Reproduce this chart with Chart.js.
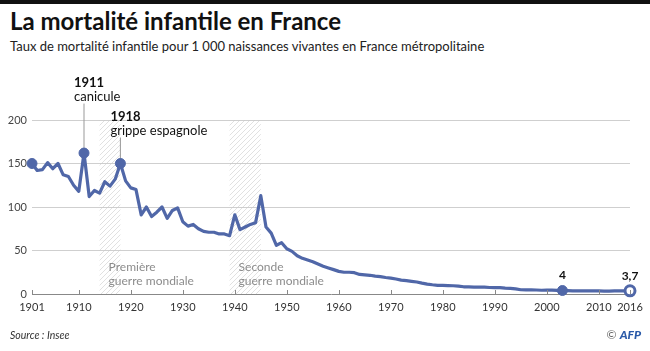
<!DOCTYPE html>
<html>
<head>
<meta charset="utf-8">
<script src="https://cdn.jsdelivr.net/npm/chart.js@4.4.1/dist/chart.umd.min.js"></script>
<style>
html, body { margin: 0; padding: 0; background: #fff; }
body { width: 650px; height: 351px; position: relative; overflow: hidden; font-family: Lato, sans-serif; }
#bar { position: absolute; left: 0; top: 0; width: 650px; height: 4px; background: #111; }
#title { position: absolute; left: 10px; top: 6px; font-size: 24px; font-weight: bold; color: #111; white-space: nowrap; }
#subtitle { position: absolute; left: 10px; top: 38px; font-size: 13px; color: #222; white-space: nowrap; }
#source { position: absolute; left: 10px; top: 329px; font-size: 10.5px; font-style: italic; color: #333; }
#credit { position: absolute; right: 9px; top: 327px; font-size: 12px; color: #666; }
#credit b { color: #2b5aa8; font-style: italic; font-weight: 900; }
#wrap { position: absolute; left: 0; top: 0; width: 650px; height: 351px; }
</style>
</head>
<body>
<div id="bar"></div>
<div id="title">La mortalité infantile en France</div>
<div id="subtitle">Taux de mortalité infantile pour 1 000 naissances vivantes en France métropolitaine</div>
<div id="wrap"><canvas id="chart"></canvas></div>
<div id="source">Source : Insee</div>
<div id="credit">© <b>AFP</b></div>
<script>
// années
const years = [
  1901,1902,1903,1904,1905,1906,1907,1908,1909,1910,
  1911,1912,1913,1914,1915,1916,1917,1918,1919,1920,
  1921,1922,1923,1924,1925,1926,1927,1928,1929,1930,
  1931,1932,1933,1934,1935,1936,1937,1938,1939,1940,
  1941,1942,1943,1944,1945,1946,1947,1948,1949,1950,
  1951,1952,1953,1954,1955,1956,1957,1958,1959,1960,
  1961,1962,1963,1964,1965,1966,1967,1968,1969,1970,
  1971,1972,1973,1974,1975,1976,1977,1978,1979,1980,
  1981,1982,1983,1984,1985,1986,1987,1988,1989,1990,
  1991,1992,1993,1994,1995,1996,1997,1998,1999,2000,
  2001,2002,2003,2004,2005,2006,2007,2008,2009,2010,
  2011,2012,2013,2014,2015,2016
];
// taux pour 1000 naissances
const rates = [
  150,142,143,151,144,150,137,135,125,118,
  162,112,119,116,129,124,132,150,130,122,
  120,91,100,89,94,100,87,96,99,83,
  78,80,75,72,71,71,69,69,67,91,
  74,77,80,82,113,77,70,56,59,52,
  49,44,41,39,37,34.5,32,30,28,26,
  25,25,24.5,22.5,22,21.5,20.5,20,19,18.2,
  17.2,16,15.4,14.6,13.8,12.5,11.4,10.6,10,10,
  9.7,9.5,9.1,8.3,8.3,8,7.8,7.8,7.5,7.3,
  7.3,6.8,6.5,5.9,4.9,4.8,4.7,4.6,4.3,4.4,
  4.5,4.1,4,3.9,3.6,3.6,3.6,3.6,3.7,3.5,
  3.3,3.3,3.6,3.5,3.7,3.7
];
const tickYears = [1901,1910,1920,1930,1940,1950,1960,1970,1980,1990,2000,2010,2016];
const yTicks = [0,50,100,150,200];

const markerYears = [1901,1911,1918,2003,2016];
const valueLabelYears = [2003,2016];
const valueLabels = ["4","3,7"];

const eventYears = [1911,1918];
const eventTitles = ["1911","1918"];
const eventNotes = ["canicule","grippe espagnole"];
const eventLevels = [243,204];

const warStart = [1914,1939];
const warEnd = [1918,1945];
const warLabels = [["Première","guerre mondiale"],["Seconde","guerre mondiale"]];

const blue = "#5067a8";

function hatch() {
  const c = document.createElement("canvas");
  c.width = 5; c.height = 5;
  const g = c.getContext("2d");
  g.strokeStyle = "rgba(200,200,200,0.55)";
  g.lineWidth = 1;
  g.beginPath();
  g.moveTo(0, 5); g.lineTo(5, 0);
  g.moveTo(-1, 1); g.lineTo(1, -1);
  g.moveTo(4, 6); g.lineTo(6, 4);
  g.stroke();
  return c;
}

const extras = {
  id: "extras",
  beforeDatasetsDraw(chart) {
    const ctx = chart.ctx, x = chart.scales.x, y = chart.scales.y;
    const pat = ctx.createPattern(hatch(), "repeat");
    ctx.save();
    warStart.forEach((s, i) => {
      const x0 = x.getPixelForValue(s), x1 = x.getPixelForValue(warEnd[i]);
      const top = y.getPixelForValue(200), bot = y.getPixelForValue(0);
      ctx.fillStyle = pat;
      ctx.fillRect(x0, top, x1 - x0, bot - top);
      ctx.fillStyle = "#8c8c8c";
      ctx.font = "12px Lato";
      ctx.textBaseline = "middle";
      ctx.fillText(warLabels[i][0], x0 + 9, bot - 27);
      ctx.fillText(warLabels[i][1], x0 + 9, bot - 13);
    });
    // annotations
    eventYears.forEach((yr, i) => {
      const px = x.getPixelForValue(yr);
      const py = y.getPixelForValue(rates[years.indexOf(yr)]);
      const ty = y.getPixelForValue(eventLevels[i]);
      ctx.strokeStyle = "#999";
      ctx.lineWidth = 1;
      ctx.beginPath();
      ctx.moveTo(px, ty + 21);
      ctx.lineTo(px, py);
      ctx.stroke();
      ctx.fillStyle = "#111";
      ctx.textBaseline = "middle";
      ctx.font = "bold 13px Lato";
      ctx.fillText(eventTitles[i], px - 10, ty);
      ctx.font = "13px Lato";
      ctx.fillText(eventNotes[i], px - 10, ty + 14);
    });
    ctx.restore();
  },
  afterDraw(chart) {
    const ctx = chart.ctx, x = chart.scales.x, y = chart.scales.y;
    ctx.save();
    const bot = y.getPixelForValue(0);
    ctx.strokeStyle = "#888";
    ctx.lineWidth = 1;
    ctx.beginPath();
    tickYears.forEach(v => {
      const px = Math.round(x.getPixelForValue(v)) + 0.5;
      ctx.moveTo(px, bot);
      ctx.lineTo(px, bot - 4);
    });
    ctx.stroke();
    ctx.fillStyle = "#111";
    ctx.font = "bold 12px Lato";
    ctx.textAlign = "center";
    ctx.textBaseline = "middle";
    valueLabelYears.forEach((yr, i) => {
      const px = x.getPixelForValue(yr);
      const py = y.getPixelForValue(rates[years.indexOf(yr)]);
      ctx.fillText(valueLabels[i], px, py - 15);
    });
    ctx.restore();
  }
};

new Chart(document.getElementById("chart"), {
  type: "line",
  data: {
    datasets: [{
      data: years.map((yr, i) => ({ x: yr, y: rates[i] })),
      borderColor: blue,
      borderWidth: 3.2,
      borderJoinStyle: "round",
      tension: 0,
      pointRadius: c => markerYears.includes(years[c.dataIndex]) ? 5 : 0,
      pointBackgroundColor: c => years[c.dataIndex] === 2016 ? "#fff" : blue,
      pointBorderColor: blue,
      pointBorderWidth: c => years[c.dataIndex] === 2016 ? 3 : 1,
      clip: false
    }]
  },
  options: {
    responsive: true,
    maintainAspectRatio: false,
    animation: false,
    layout: { padding: { top: 120, right: 20, left: 0, bottom: 0 } },
    plugins: { legend: { display: false }, tooltip: { enabled: false } },
    scales: {
      x: {
        type: "linear",
        min: 1901,
        max: 2016,
        afterBuildTicks: s => { s.ticks = tickYears.map(v => ({ value: v })); },
        afterFit: s => { s.height = 57; },
        grid: { drawOnChartArea: false, drawTicks: false },
        border: { display: true, color: "#888", width: 1 },
        ticks: {
          autoSkip: false, maxRotation: 0, padding: 7,
          color: "#333", font: { family: "Lato", size: 11 },
          callback: v => String(v)
        }
      },
      y: {
        min: 0,
        max: 200,
        afterBuildTicks: s => { s.ticks = yTicks.map(v => ({ value: v })); },
        afterFit: s => { s.width = 32; },
        border: { display: false },
        grid: {
          drawTicks: false,
          color: c => c.tick && c.tick.value === 0 ? "rgba(0,0,0,0)" : "#cfcfcf",
          borderDash: [1, 2]
        },
        ticks: { padding: 5, color: "#444", font: { family: "Lato", size: 11 } }
      }
    }
  },
  plugins: [extras]
});
</script>
</body>
</html>
